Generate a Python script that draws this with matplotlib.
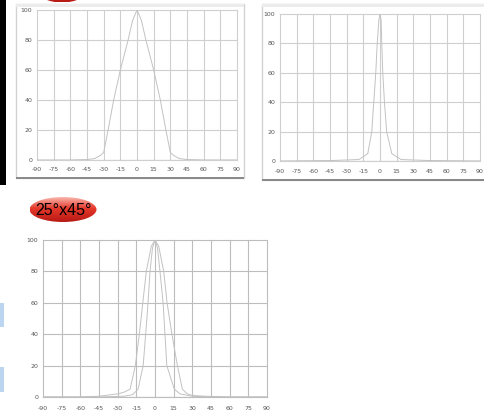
import numpy as np
import matplotlib.pyplot as plt
from matplotlib.patches import Rectangle, Ellipse

W, H = 484, 415

# beam profiles: angle (deg) vs relative intensity (%)
ang_wide = [-90, -60, -45, -38, -33, -30, -26, -21, -15, -8, -4, 0,
            4, 8, 15, 21, 26, 30, 33, 38, 45, 60, 90]
int_wide = [0, 0, 0.3, 1, 3, 5, 20, 40, 60, 80, 93, 100,
            93, 80, 60, 40, 20, 5, 3, 1, 0.3, 0, 0]

ang_spot = [-90, -45, -19, -11, -7.4, -5.6, -3.8, -2.5, -1, 0,
            1, 1.6, 2.5, 4, 6, 10.6, 19, 45, 90]
int_spot = [0, 0.3, 1, 5, 20, 40, 60, 80, 96, 100,
            96, 80, 60, 40, 20, 5, 1, 0.3, 0]

ang_45 = [-90, -60, -45, -30, -25, -20, -15.8, -12.6, -9.8, -7, -3, 0,
          3, 7, 9.7, 13.6, 18, 22, 26, 30, 40, 60, 90]
int_45 = [0, 0, 0.5, 2, 3, 5, 20, 40, 60, 80, 96, 100,
          96, 80, 60, 40, 20, 5, 2, 1, 0.5, 0, 0]

ang_25 = [-90, -45, -25, -18, -13.6, -9.5, -7.5, -5.6, -4, -2, 0,
          2, 4, 6.5, 8, 9.5, 15.5, 20, 30, 45, 90]
int_25 = [0, 0, 0.5, 1.5, 5, 20, 40, 60, 80, 95, 100,
          95, 80, 60, 40, 20, 5, 2, 0.5, 0, 0]

x_ticks = list(range(-90, 91, 15))
y_ticks = [0, 20, 40, 60, 80, 100]
label_25x45 = "25°x45°"

fig = plt.figure(figsize=(W / 100, H / 100), dpi=100)
fig.patch.set_facecolor("white")

# decoration layer in pixel coordinates
bg = fig.add_axes([0, 0, 1, 1])
bg.set_xlim(0, W)
bg.set_ylim(H, 0)
bg.axis("off")


def rect(x0, y0, x1, y1, **kw):
    bg.add_patch(Rectangle((x0, y0), x1 - x0, y1 - y0, **kw))


def oval(cx, cy, w, h):
    e = Ellipse((cx, cy), w, h, facecolor="none", edgecolor="none")
    bg.add_patch(e)
    t = np.linspace(0, 1, 64)[:, None]
    top = np.array([0.98, 0.72, 0.68])
    mid = np.array([0.90, 0.22, 0.17])
    bot = np.array([0.72, 0.10, 0.08])
    col = np.where(t < 0.45, top + (mid - top) * (t / 0.45),
                   mid + (bot - mid) * ((t - 0.45) / 0.55))
    img = np.repeat(col[:, None, :], 8, axis=1)
    im = bg.imshow(img, extent=(cx - w / 2, cx + w / 2, cy + h / 2, cy - h / 2),
                   origin="upper", aspect="auto", zorder=2)
    im.set_clip_path(e)
    bg.set_xlim(0, W)
    bg.set_ylim(H, 0)


rect(0, 0, 6, 185, facecolor="black", edgecolor="none")
rect(16, 4, 244, 178, facecolor="white", edgecolor="#d2d2d2", lw=1)
rect(16, 4, 244, 7, facecolor="#ececec", edgecolor="none")
rect(16, 177, 244, 179, facecolor="#8a8a8a", edgecolor="none")
rect(262, 4, 490, 180, facecolor="white", edgecolor="#d2d2d2", lw=1)
rect(262, 4, 490, 7, facecolor="#ececec", edgecolor="none")
rect(262, 179, 490, 181, facecolor="#8a8a8a", edgecolor="none")
rect(0, 303, 4, 327, facecolor="#bcd6f2", edgecolor="none")
rect(0, 367, 4, 392, facecolor="#bcd6f2", edgecolor="none")
oval(62, -10, 50, 25)
oval(63, 209.5, 67, 25)
bg.text(64, 210, label_25x45, ha="center", va="center", fontsize=11.5,
        family="Liberation Sans", color="black", zorder=3)


def chart(box, curves, grid_col, pad_x):
    l, t, r, b = box
    ax = fig.add_axes([l / W, 1 - b / H, (r - l) / W, (b - t) / H])
    ax.set_facecolor("white")
    for a, v in curves:
        ax.plot(a, v, color="#c2c2c2", lw=0.7)
    ax.set_xlim(-90, 90)
    ax.set_ylim(0, 100)
    ax.set_xticks(x_ticks, labels=[str(v) for v in x_ticks])
    ax.set_yticks(y_ticks, labels=[str(v) for v in y_ticks])
    ax.grid(True, color=grid_col, lw=0.8)
    for gl in ax.get_xgridlines() + ax.get_ygridlines():
        gl.set_clip_on(False)
    ax.set_axisbelow(True)
    ax.tick_params(length=0, labelsize=4.5, colors="#555555")
    ax.tick_params(axis="x", pad=pad_x)
    ax.tick_params(axis="y", pad=3.5)
    for s in ax.spines.values():
        s.set_visible(False)
    ax.axhline(0, color="#9a9a9a", lw=0.8)
    return ax


chart((37, 10, 237, 160), [(ang_wide, int_wide)], "#cfcfcf", 5)
chart((280, 14, 480, 161), [(ang_spot, int_spot)], "#cfcfcf", 5.5)
chart((43, 240, 267, 397), [(ang_45, int_45), (ang_25, int_25)], "#bdbdbd", 6.5)

fig.savefig("out.png", dpi=100)
